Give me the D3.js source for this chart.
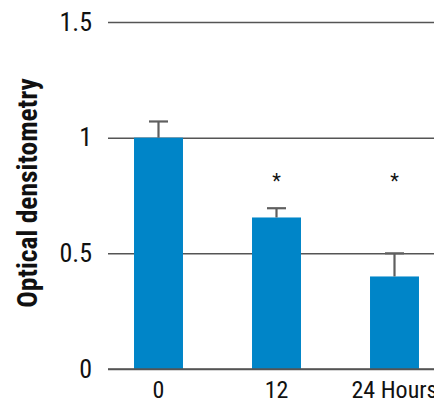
<!DOCTYPE html>
<html><head><meta charset="utf-8">
<script src="https://cdn.jsdelivr.net/npm/d3@7"></script>
<style>
html,body{margin:0;padding:0;background:#fff;}
svg{display:block;}
text{font-family:"Liberation Sans Narrow","Roboto Condensed","Arial Narrow",sans-serif;}
</style></head>
<body>
<svg id="c" width="434" height="403"></svg>
<script>
const categories = ["0", "12", "24 Hours"];
const values = [1.0, 0.655, 0.40];
const errors = [0.07, 0.04, 0.10];
const significant = [false, true, true];
const yTicks = [0, 0.5, 1, 1.5];
const yTickLabels = ["0", "0.5", "1", "1.5"];

const svg = d3.select("#c");
const y = d3.scaleLinear().domain([0, 1.5]).range([369, 22]);
const x = d3.scaleBand().domain(categories).range([99.5, 453.5]).paddingInner(0.585).paddingOuter(0.2925);

// gridlines
const yAxis = d3.axisLeft(y).tickValues(yTicks).tickSize(-(434 - 108)).tickFormat((d,i)=>yTickLabels[i]).tickPadding(16);
const gy = svg.append("g").attr("transform","translate(108,0)").call(yAxis);
gy.select(".domain").remove();
gy.selectAll(".tick line").attr("stroke","#555").attr("stroke-width",1.5);
gy.selectAll(".tick text").attr("font-size",26).attr("fill","#111");

// bars
svg.append("g").selectAll("rect").data(values).join("rect")
  .attr("x",(d,i)=>x(categories[i]))
  .attr("y",d=>y(d))
  .attr("width",x.bandwidth())
  .attr("height",d=>y(0)-y(d))
  .attr("fill","#0085C8");

// error bars
const eg = svg.append("g").attr("stroke","#5f5f5f").attr("stroke-width",2.2);
values.forEach((v,i)=>{
  const cx = x(categories[i]) + x.bandwidth()/2;
  eg.append("line").attr("x1",cx).attr("x2",cx).attr("y1",y(v)).attr("y2",y(v+errors[i]));
  eg.append("line").attr("x1",cx-9.5).attr("x2",cx+9.5).attr("y1",y(v+errors[i])).attr("y2",y(v+errors[i]));
});

// baseline
svg.append("line").attr("x1",108).attr("x2",434).attr("y1",y(0)).attr("y2",y(0)).attr("stroke","#555").attr("stroke-width",1.5);

// asterisks
svg.append("g").selectAll("text").data(values).join("text")
  .filter((d,i)=>significant[i])
  .attr("x",(d,i)=>x(categories[values.indexOf(d)])+x.bandwidth()/2)
  .attr("y",188)
  .attr("text-anchor","middle")
  .attr("font-size",20).attr("fill","#111")
  .text("*");

// x labels
const xAxis = d3.axisBottom(x).tickSize(0).tickPadding(12);
const gx = svg.append("g").attr("transform",`translate(0,${y(0)})`).call(xAxis);
gx.select(".domain").remove();
gx.selectAll(".tick text").attr("font-size",24).attr("fill","#111");

// y label
svg.append("text")
  .attr("transform","translate(37,193) rotate(-90)")
  .attr("text-anchor","middle")
  .attr("font-size",27.5).attr("font-weight","bold").attr("fill","#111")
  .text("Optical densitometry");
</script>
</body></html>
